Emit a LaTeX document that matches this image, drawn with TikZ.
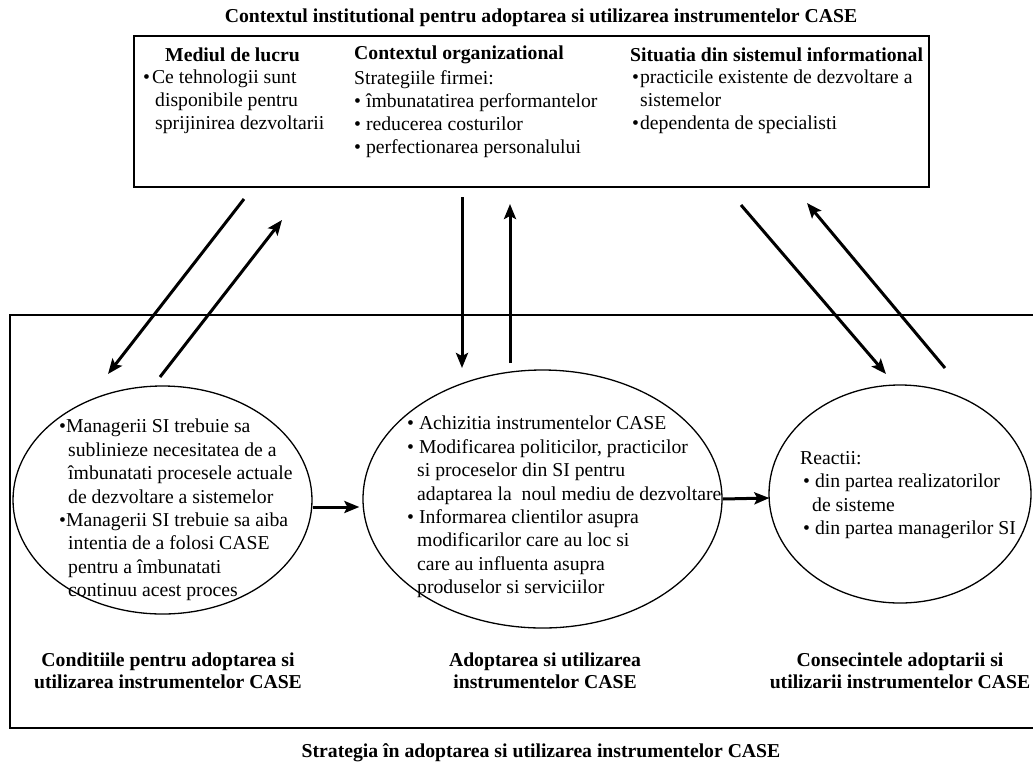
\documentclass[tikz,border=0pt]{standalone}
\usepackage{fontspec}
\setmainfont{Liberation Serif}
\usetikzlibrary{shapes.geometric,arrows.meta}
\begin{document}
\begin{tikzpicture}[x=1pt,y=-1pt,
  txt/.style={inner sep=0pt, align=left, anchor=north west, font=\fontsize{19.7}{23.4}\selectfont},
  toptxt/.style={inner sep=0pt, align=left, anchor=north west, font=\fontsize{19.7}{23}\selectfont},
  head/.style={inner sep=0pt, anchor=west, font=\fontsize{19.7}{23}\selectfont\bfseries},
  lbl/.style={inner sep=0pt, align=center, font=\fontsize{19.7}{22.5}\selectfont\bfseries},
  ell/.style={draw, ellipse, line width=1.3pt, inner sep=0pt},
  arr/.style={line width=3pt, -{Stealth[length=15pt,width=12pt,inset=3pt]}},
  frame/.style={draw, inner sep=0pt}
  ]
\useasboundingbox (0,0) rectangle (1033,764);

% frames
\node[frame, line width=1.8pt, minimum width=795pt, minimum height=151pt] (TB) at (531.5,111.5) {};
\node[frame, line width=1.3pt, minimum width=1030pt, minimum height=413pt] (BB) at (525,521.5) {};

% titles
\node[lbl] (title) at (541,18) {Contextul institutional pentru adoptarea si utilizarea instrumentelor CASE};
\node[lbl] (strat) at (541,753) {Strategia în adoptarea si utilizarea instrumentelor CASE};

% top box columns
\node[head] (h1) at (165,55) {Mediul de lucru};
\node[head] (h2) at (354,55) {Contextul organizational};
\node[head] (h3) at (630,55) {Situatia din sistemul informational};
\node[toptxt] (c1) at (143,70) {•\hspace{2pt}Ce tehnologii sunt\\ \hspace*{12pt}disponibile pentru\\ \hspace*{12pt}sprijinirea dezvoltarii};
\node[toptxt] (c2) at (354,70) {Strategiile firmei:\\• îmbunatatirea performantelor\\• reducerea costurilor\\• perfectionarea personalului};
\node[toptxt] (c3) at (632,70) {•\hspace{1pt}practicile existente de dezvoltare a\\ \hspace*{8pt}sistemelor\\•\hspace{1pt}dependenta de specialisti};

% ellipses
\node[ell, minimum width=299pt, minimum height=228pt] (E1) at (162.5,500) {};
\node[ell, minimum width=359pt, minimum height=258pt] (E2) at (542.5,499) {};
\node[ell, minimum width=262pt, minimum height=218pt] (E3) at (900,494) {};

\node[txt] (t1) at (59,419) {•Managerii SI trebuie sa\\ \hspace*{9pt}sublinieze necesitatea de a\\ \hspace*{9pt}îmbunatati procesele actuale\\ \hspace*{9pt}de dezvoltare a sistemelor\\•Managerii SI trebuie sa aiba\\ \hspace*{9pt}intentia de a folosi CASE\\ \hspace*{9pt}pentru a îmbunatati\\ \hspace*{9pt}continuu acest proces};
\node[txt] (t2) at (407,416) {• Achizitia instrumentelor CASE\\• Modificarea politicilor, practicilor\\ \hspace*{10pt}si proceselor din SI pentru\\ \hspace*{10pt}adaptarea la\ \ noul mediu de dezvoltare\\• Informarea clientilor asupra\\ \hspace*{10pt}modificarilor care au loc si\\ \hspace*{10pt}care au influenta asupra\\ \hspace*{10pt}produselor si serviciilor};
\node[txt] (t3) at (800,451) {Reactii:\\ \hspace*{3pt}• din partea realizatorilor\\ \hspace*{12pt}de sisteme\\ \hspace*{3pt}• din partea managerilor SI};

% bottom labels
\node[lbl] (L1) at (168,671) {Conditiile pentru adoptarea si\\utilizarea instrumentelor CASE};
\node[lbl] (L2) at (545,671) {Adoptarea si utilizarea\\instrumentelor CASE};
\node[lbl] (L3) at (900,671) {Consecintele adoptarii si\\utilizarii instrumentelor CASE};

% arrow end points
\coordinate (a1s) at (244,199); \coordinate (a1e) at (108,374);
\coordinate (a2s) at (160,377); \coordinate (a2e) at (282,220);
\coordinate (a3s) at (462,197); \coordinate (a3e) at (462,368);
\coordinate (a4s) at (510,363); \coordinate (a4e) at (510,204);
\coordinate (a5s) at (741,205); \coordinate (a5e) at (886,374);
\coordinate (a6s) at (945,368); \coordinate (a6e) at (807,203);

\draw[arr] (a1s) -- (a1e);
\draw[arr] (a2s) -- (a2e);
\draw[arr] (a3s) -- (a3e);
\draw[arr] (a4s) -- (a4e);
\draw[arr] (a5s) -- (a5e);
\draw[arr] (a6s) -- (a6e);

\draw[arr] ([yshift=-7pt]E1.east) -- ([xshift=-3pt,yshift=-8pt]E2.west);
\draw[arr] (E2.east) -- ([xshift=1pt,yshift=-4pt]E3.west);
\end{tikzpicture}
\end{document}
